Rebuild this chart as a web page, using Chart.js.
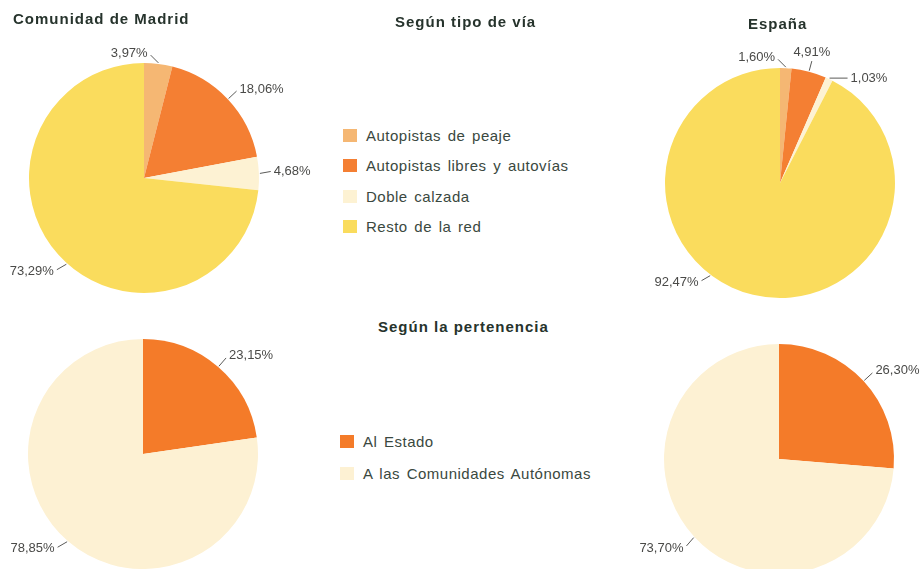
<!DOCTYPE html>
<html>
<head>
<meta charset="utf-8">
<script src="https://cdn.jsdelivr.net/npm/chart.js@4/dist/chart.umd.min.js"></script>
<style>
  html, body { margin: 0; padding: 0; background: #fff; }
  body { width: 924px; height: 569px; overflow: hidden; position: relative;
         font-family: "Liberation Sans", Arial, Helvetica, sans-serif; }
  canvas { position: absolute; }
  .titulo { position: absolute; font-weight: bold; font-size: 15px; color: #26332c;
            letter-spacing: 1px; white-space: nowrap; z-index: 2; }
  .leyenda { position: absolute; z-index: 2; }
  .item { position: absolute; white-space: nowrap; font-size: 15px; color: #3a4840;
          letter-spacing: 0.5px; word-spacing: 2px; }
  .item span { position: absolute; left: -23px; top: 2px; width: 14px; height: 13px; }
</style>
</head>
<body>

<div class="titulo" style="left:13px; top:10px;">Comunidad de Madrid</div>
<div class="titulo" style="left:395px; top:13px;">Según tipo de vía</div>
<div class="titulo" style="left:748px; top:15px;">España</div>
<div class="titulo" style="left:378px; top:318px;">Según la pertenencia</div>

<div class="leyenda" id="leyendaVia" style="left:366px; top:127px;"></div>
<div class="leyenda" id="leyendaPertenencia" style="left:363px; top:433px;"></div>

<canvas id="madridVia" width="320" height="310" style="left:0; top:0;"></canvas>
<canvas id="espanaVia" width="304" height="315" style="left:620px; top:0;"></canvas>
<canvas id="madridPert" width="320" height="254" style="left:0; top:315px;"></canvas>
<canvas id="espanaPert" width="304" height="264" style="left:620px; top:315px;"></canvas>

<script>
// Según tipo de vía
const labelsVia = ["Autopistas de peaje", "Autopistas libres y autovías", "Doble calzada", "Resto de la red"];
const coloresVia = ["#F5B773", "#F47F33", "#FDF2D3", "#FADC5D"];
const madridVia = [3.97, 18.06, 4.68, 73.29];
const espanaVia = [1.60, 4.91, 1.03, 92.47];

// Según la pertenencia
const labelsPert = ["Al Estado", "A las Comunidades Autónomas"];
const coloresPert = ["#F47B29", "#FDF1D3"];
const madridPert = [23.15, 78.85];
const espanaPert = [26.30, 73.70];

// etiquetas con linea guia
// angs: donde sale la linea (grados desde arriba), dirs: hacia donde va
const leaderLabels = {
    id: "leaderLabels",
    afterDatasetsDraw(chart, args, opts) {
        const ctx = chart.ctx;
        const meta = chart.getDatasetMeta(0);
        const valores = chart.data.datasets[0].data;
        const rad = function (g) { return (g - 90) * Math.PI / 180; };
        ctx.save();
        ctx.font = '13px "Liberation Sans", Arial, sans-serif';
        ctx.fillStyle = "#4a4a48";
        ctx.strokeStyle = "#5a5a58";
        ctx.lineWidth = 1;
        meta.data.forEach(function (arc, i) {
            const p = arc.getProps(["x", "y", "startAngle", "endAngle", "outerRadius"], true);
            let mid = (p.startAngle + p.endAngle) / 2;
            if (opts.angs && opts.angs[i] != null) mid = rad(opts.angs[i]);
            const ax = p.x + Math.cos(mid) * (p.outerRadius + 1);
            const ay = p.y + Math.sin(mid) * (p.outerRadius + 1);
            const d = (opts.dirs && opts.dirs[i] != null) ? rad(opts.dirs[i]) : mid;
            const len = (opts.lens && opts.lens[i]) || 11;
            const ex = ax + Math.cos(d) * len;
            const ey = ay + Math.sin(d) * len;
            ctx.beginPath();
            ctx.moveTo(ax, ay);
            ctx.lineTo(ex, ey);
            ctx.stroke();

            const c = Math.cos(d), s = Math.sin(d);
            let tx = ex, ty = ey;
            if (Math.abs(c) < 0.3) {
                ctx.textAlign = "center";
                ctx.textBaseline = s < 0 ? "bottom" : "top";
                ty += s < 0 ? -2 : 2;
            } else {
                ctx.textAlign = c > 0 ? "left" : "right";
                ctx.textBaseline = "middle";
                tx += c > 0 ? 3 : -3;
                ty += s * 3;
            }
            ctx.fillText(valores[i].toFixed(2).replace(".", ",") + "%", tx, ty);
        });
        ctx.restore();
    }
};

function crearTarta(id, labels, valores, colores, padding, guias) {
    return new Chart(document.getElementById(id), {
        type: "pie",
        data: {
            labels: labels,
            datasets: [{
                data: valores,
                backgroundColor: colores,
                borderWidth: 0,
            }],
        },
        options: {
            responsive: false,
            animation: false,
            layout: { padding: padding },
            plugins: {
                legend: { display: false },
                leaderLabels: guias,
            },
        },
        plugins: [leaderLabels],
    });
}

crearTarta("madridVia", labelsVia, madridVia, coloresVia,
    { left: 29, right: 61, top: 63, bottom: 17 },
    { angs: [null, null, null, 222], dirs: [-45, null, 80, 240], lens: [11, 11, 11, 11] });
crearTarta("espanaVia", labelsVia, espanaVia, coloresVia,
    { left: 45, right: 29, top: 68, bottom: 17 },
    { angs: [null, null, null, 217], dirs: [-45, 15, 90, 240], lens: [11, 10, 18, 10] });
crearTarta("madridPert", labelsPert, madridPert, coloresPert,
    { left: 28, right: 62, top: 24, bottom: 0 },
    { dirs: [null, 240] });
crearTarta("espanaPert", labelsPert, espanaPert, coloresPert,
    { left: 44, right: 30, top: 29, bottom: 5 },
    { dirs: [null, 221] });

// leyendas
function crearLeyenda(id, labels, colores, paso) {
    const cont = document.getElementById(id);
    labels.forEach(function (l, i) {
        const d = document.createElement("div");
        d.className = "item";
        d.style.top = (i * paso) + "px";
        d.innerHTML = '<span style="background:' + colores[i] + '"></span>' + l;
        cont.appendChild(d);
    });
}
crearLeyenda("leyendaVia", labelsVia, coloresVia, 30.3);
crearLeyenda("leyendaPertenencia", labelsPert, coloresPert, 32);
</script>
</body>
</html>
